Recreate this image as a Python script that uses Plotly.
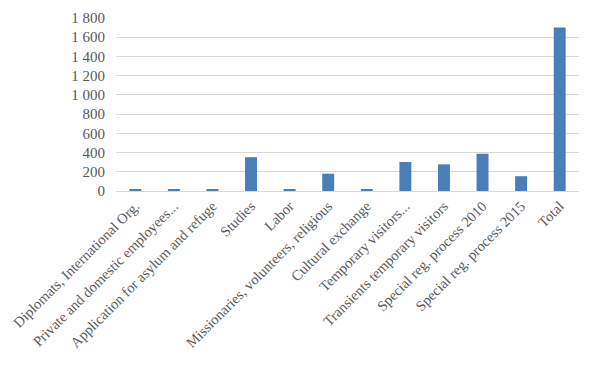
import plotly.graph_objects as go

categories = [
    "Diplomats, International Org.",
    "Private and domestic employees...",
    "Application for asylum and refuge",
    "Studies",
    "Labor",
    "Missionaries, volunteers, religious",
    "Cultural exchange",
    "Temporary visitors...",
    "Transients temporary visitors",
    "Special reg. process 2010",
    "Special reg. process 2015",
    "Total",
]
values = [18, 18, 18, 352, 18, 180, 18, 302, 277, 388, 154, 1700]
tick_vals = [0, 200, 400, 600, 800, 1000, 1200, 1400, 1600, 1800]
tick_text = ["0", "200", "400", "600", "800", "1 000", "1 200", "1 400", "1 600", "1 800"]

fig = go.Figure(go.Bar(x=categories, y=values, marker_color="#4a7ebb", marker_line_width=0))
fig.update_layout(
    width=589, height=371,
    margin=dict(l=113, r=10, t=16, b=180),
    paper_bgcolor="white", plot_bgcolor="white",
    bargap=0.69,
    showlegend=False,
    font=dict(family="Liberation Serif", size=14.5, color="#595959"),
)
fig.update_xaxes(tickangle=-45, showline=True, linecolor="#d9d9d9", linewidth=1,
                 ticks="", tickfont=dict(size=14.5, color="#595959"))
fig.update_yaxes(range=[0, 1800], tickvals=tick_vals, ticktext=tick_text,
                 showgrid=True, gridcolor="#d9d9d9", gridwidth=1, zeroline=False,
                 showline=False, ticks="", ticklen=0, ticklabelstandoff=10,
                 tickfont=dict(size=15, color="#595959"))
fig.write_html("out.html")
